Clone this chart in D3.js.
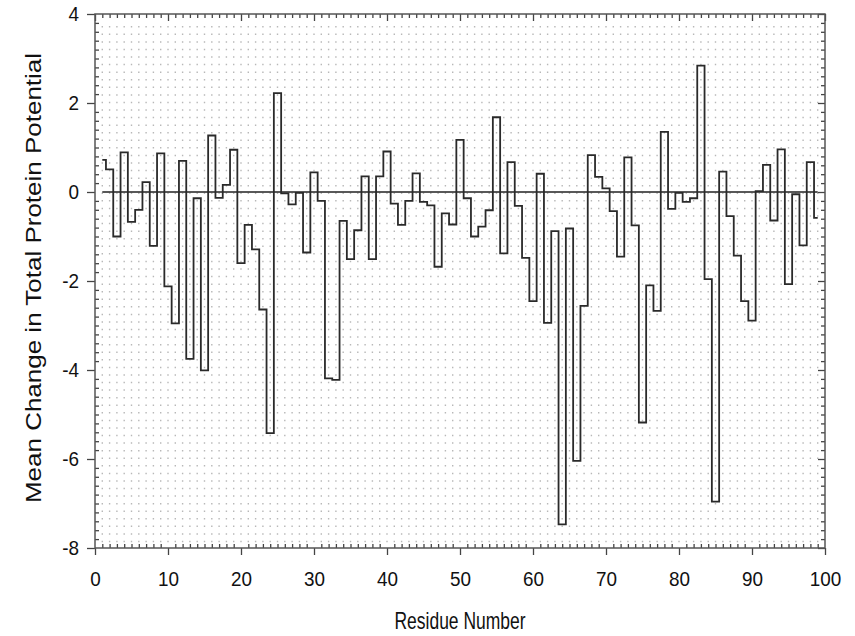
<!DOCTYPE html>
<html>
<head>
<meta charset="utf-8">
<script src="https://cdn.jsdelivr.net/npm/d3@7/dist/d3.min.js"></script>
<style>
  html, body { margin: 0; padding: 0; background: #fff; }
  svg { display: block; }
  text { font-family: "Liberation Sans", Arial, sans-serif; fill: #111; }
</style>
</head>
<body>
<svg id="chart" width="855" height="636"></svg>
<script>
// ---- data ----
const residues = d3.range(1, 100);
const values = [
  0.72, 0.51, -1.00, 0.89, -0.67, -0.40, 0.22, -1.21, 0.87, -2.12,
  -2.95, 0.70, -3.75, -0.14, -4.01, 1.27, -0.13, 0.16, 0.95, -1.60,
  -0.74, -1.29, -2.64, -5.42, 2.22, -0.03, -0.28, -0.02, -1.36, 0.44,
  -0.20, -4.19, -4.22, -0.65, -1.51, -0.86, 0.35, -1.51, 0.35, 0.91,
  -0.26, -0.74, -0.20, 0.42, -0.22, -0.30, -1.68, -0.48, -0.73, 1.17,
  -0.14, -1.00, -0.78, -0.41, 1.68, -1.38, 0.67, -0.31, -1.48, -2.45,
  0.41, -2.94, -0.88, -7.47, -0.82, -6.04, -2.56, 0.83, 0.34, 0.08,
  -0.43, -1.45, 0.78, -0.75, -5.18, -2.10, -2.67, 1.35, -0.38, -0.02,
  -0.22, -0.14, 2.84, -1.96, -6.96, 0.46, -0.54, -1.43, -2.45, -2.89,
  0.02, 0.61, -0.64, 0.96, -2.07, -0.05, -1.20, 0.67, -0.58
];
const xTicks = [0, 10, 20, 30, 40, 50, 60, 70, 80, 90, 100];
const yTicks = [4, 2, 0, -2, -4, -6, -8];
const xLabel = "Residue Number";
const yLabel = "Mean Change in Total Protein Potential";

// ---- layout ----
const L = 95, R = 825, T = 14, B = 548;
const svg = d3.select("#chart");
const x = d3.scaleLinear().domain([0, 100]).range([L, R]);
const y = d3.scaleLinear().domain([-8, 4]).range([B, T]);

const data = residues.map((r, i) => ({ r, v: values[i] }));

// dotted grid (vertical dotted lines at every residue)
const grid = svg.append("g");
grid.selectAll("line").data(d3.range(1, 100)).join("line")
  .attr("x1", d => x(d)).attr("x2", d => x(d))
  .attr("y1", 26).attr("y2", B - 2)
  .attr("stroke", "#b8b8b8")
  .attr("stroke-width", 1.4)
  .attr("stroke-dasharray", "1.5,6.07");

// axes
function styleAxis(g) {
  g.select(".domain").remove();
  g.selectAll(".tick line").attr("stroke", "#444").attr("stroke-width", 1.3);
}
const minorX = d3.range(0, 101).filter(d => d % 10 !== 0);
const minorY = d3.range(-80, 41, 2).map(d => d / 10).filter(d => Math.abs(d % 2) > 1e-9);
const SX = 0.9; // narrow digits

// bottom major (outside, labelled)
svg.append("g").attr("transform", `translate(0,${B})`)
  .call(d3.axisBottom(x).tickValues(xTicks).tickSize(7).tickPadding(16).tickFormat(d3.format("d")))
  .call(styleAxis)
  .call(g => g.selectAll("text").style("font-size", "21px").attr("fill", "#111")
    .attr("transform", `scale(${SX},1)`));
// bottom minor (inside)
svg.append("g").attr("transform", `translate(0,${B})`)
  .call(d3.axisBottom(x).tickValues(minorX).tickSize(-4).tickFormat(""))
  .call(styleAxis);
// top (inside)
svg.append("g").attr("transform", `translate(0,${T})`)
  .call(d3.axisTop(x).tickValues(minorX).tickSize(-4).tickFormat(""))
  .call(styleAxis);
svg.append("g").attr("transform", `translate(0,${T})`)
  .call(d3.axisTop(x).tickValues(xTicks).tickSize(-7).tickFormat(""))
  .call(styleAxis);
// left major (outside, labelled)
svg.append("g").attr("transform", `translate(${L},0)`)
  .call(d3.axisLeft(y).tickValues(yTicks).tickSize(8).tickPadding(8).tickFormat(d3.format("d")))
  .call(styleAxis)
  .call(g => g.selectAll("text").style("font-size", "21px").attr("fill", "#111")
    .text(d => d < 0 ? "-" + Math.abs(d) : d)
    .attr("x", -16 / SX)
    .attr("transform", `scale(${SX},1)`));
svg.append("g").attr("transform", `translate(${L},0)`)
  .call(d3.axisLeft(y).tickValues(minorY).tickSize(-4).tickFormat(""))
  .call(styleAxis);
// right (inside)
svg.append("g").attr("transform", `translate(${R},0)`)
  .call(d3.axisRight(y).tickValues(minorY).tickSize(-4).tickFormat(""))
  .call(styleAxis);
svg.append("g").attr("transform", `translate(${R},0)`)
  .call(d3.axisRight(y).tickValues(yTicks).tickSize(-7).tickFormat(""))
  .call(styleAxis);

// frame
svg.append("rect").attr("x", L).attr("y", T).attr("width", R - L).attr("height", B - T)
  .attr("fill", "none").attr("stroke", "#555").attr("stroke-width", 1.5);

// zero line
svg.append("line")
  .attr("x1", x(residues[0])).attr("x2", x(residues[residues.length - 1]))
  .attr("y1", y(0)).attr("y2", y(0))
  .attr("stroke", "#222").attr("stroke-width", 1.5);

// step line
const line = d3.line().x(d => x(d.r)).y(d => y(d.v)).curve(d3.curveStep);
svg.append("path").datum(data)
  .attr("d", line)
  .attr("fill", "none")
  .attr("stroke", "#2a2a2a")
  .attr("stroke-width", 1.8)
  .attr("stroke-linejoin", "miter");

// axis titles (narrow sans, as in the reference)
svg.append("text")
  .attr("transform", `translate(${(L + R) / 2},629) scale(0.76,1)`)
  .attr("text-anchor", "middle")
  .style("font-size", "23px")
  .text(xLabel);
svg.append("text")
  .attr("transform", `translate(41,278) rotate(-90) scale(1,0.85)`)
  .attr("text-anchor", "middle")
  .style("font-size", "26px")
  .text(yLabel);
</script>
</body>
</html>
